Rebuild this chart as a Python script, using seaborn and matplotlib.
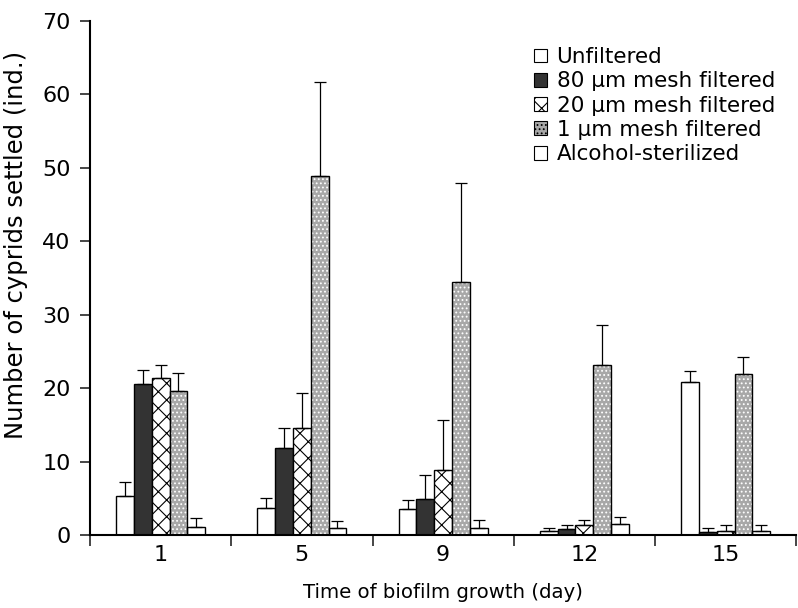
import numpy as np
import pandas as pd
import matplotlib
matplotlib.use("Agg")
import matplotlib.pyplot as plt
from matplotlib.patches import Rectangle
from matplotlib.ticker import FixedLocator
import seaborn as sns

days = ["1", "5", "9", "12", "15"]
treatments = ["Unfiltered", "80 μm mesh filtered", "20 μm mesh filtered",
              "1 μm mesh filtered", "Alcohol-sterilized"]
unfiltered = [5.3, 3.7, 3.5, 0.5, 20.8]
mesh80 = [20.5, 11.9, 4.9, 0.8, 0.4]
mesh20 = [21.4, 14.6, 8.9, 1.3, 0.6]
mesh1 = [19.6, 48.9, 34.5, 23.1, 21.9]
alcohol = [1.1, 1.0, 1.0, 1.5, 0.6]
err_unfiltered = [1.9, 1.3, 1.3, 0.5, 1.6]
err_mesh80 = [2.0, 2.7, 3.3, 0.5, 0.6]
err_mesh20 = [1.7, 4.8, 6.7, 0.7, 0.7]
err_mesh1 = [2.4, 12.8, 13.5, 5.5, 2.3]
err_alcohol = [1.2, 0.9, 1.0, 0.9, 0.7]

means = [unfiltered, mesh80, mesh20, mesh1, alcohol]
errs = [err_unfiltered, err_mesh80, err_mesh20, err_mesh1, err_alcohol]

rows = []
for t, m, e in zip(treatments, means, errs):
    for d, v, s in zip(days, m, e):
        rows.append({"day": d, "treatment": t, "value": v, "err": s})
df = pd.DataFrame(rows)

sns.set_style("white")
plt.rcParams["font.family"] = ["DejaVu Sans"]
plt.rcParams["hatch.linewidth"] = 0.8

fig = plt.figure(figsize=(7.98, 6.08), dpi=100)
ax = fig.add_axes([0.1128, 0.120, 0.885, 0.8455])

palette = {treatments[0]: "white", treatments[1]: "#333333", treatments[2]: "white",
           treatments[3]: "#a8a8a8", treatments[4]: "white"}
sns.barplot(data=df, x="day", y="value", hue="treatment", order=days,
            hue_order=treatments, palette=palette, width=0.63, gap=0,
            errorbar=None, edgecolor="black", linewidth=1.0, ax=ax, saturation=1)

bars = [p for p in ax.patches if isinstance(p, Rectangle)][:25]
for i, t in enumerate(treatments):
    sub = bars[i * 5:(i + 1) * 5]
    xs = [p.get_x() + p.get_width() / 2 for p in sub]
    ys = [p.get_height() for p in sub]
    for p in sub:
        if i == 2:
            p.set_hatch("xx")
        elif i == 3:
            p.set_edgecolor("white")
            p.set_hatch("....")
            p.set_linewidth(0)
            ax.add_patch(Rectangle(p.get_xy(), p.get_width(), p.get_height(),
                                   fill=False, ec="black", lw=1.0, zorder=p.get_zorder() + 0.1))
    ax.errorbar(xs, ys, yerr=[np.zeros(5), errs[i]], fmt="none", ecolor="black",
                elinewidth=0.9, capsize=4, capthick=0.9, zorder=5)

ax.set_ylim(0, 70)
ax.set_xlim(-0.5, 4.5)
ax.set_yticks(range(0, 71, 10))
ax.xaxis.set_minor_locator(FixedLocator(np.arange(-0.5, 4.6, 1.0)))
ax.tick_params(axis="x", which="major", length=0, labelsize=16, pad=7)
ax.tick_params(axis="x", which="minor", length=8, width=1.2, direction="out", bottom=True)
ax.tick_params(axis="y", length=7, width=1.2, direction="out", left=True, labelsize=16, pad=7)
sns.despine(ax=ax)
for s in ["left", "bottom"]:
    ax.spines[s].set_linewidth(1.5)
    ax.spines[s].set_color("black")
for lab in ax.get_xticklabels() + ax.get_yticklabels():
    lab.set_color("black")

ax.set_xlabel("Time of biofilm growth (day)", fontsize=14.2, labelpad=13, color="black")
ax.set_ylabel("Number of cyprids settled (ind.)", fontsize=17.5, labelpad=10, color="black")
ax.yaxis.set_label_coords(-0.088, 0.564)

leg = ax.legend(loc="upper right", bbox_to_anchor=(0.982, 0.966), frameon=False,
                fontsize=15.5, handlelength=0.62, handleheight=0.62, handletextpad=0.45,
                labelspacing=0.2, borderaxespad=0)
for txt in leg.get_texts():
    txt.set_color("black")
for h in leg.legend_handles:
    h.set_edgecolor("black")
    h.set_linewidth(0.8)
leg.legend_handles[2].set_hatch("xx")
leg.legend_handles[3].set_hatch("....")

fig.savefig("out.png", dpi=100)
